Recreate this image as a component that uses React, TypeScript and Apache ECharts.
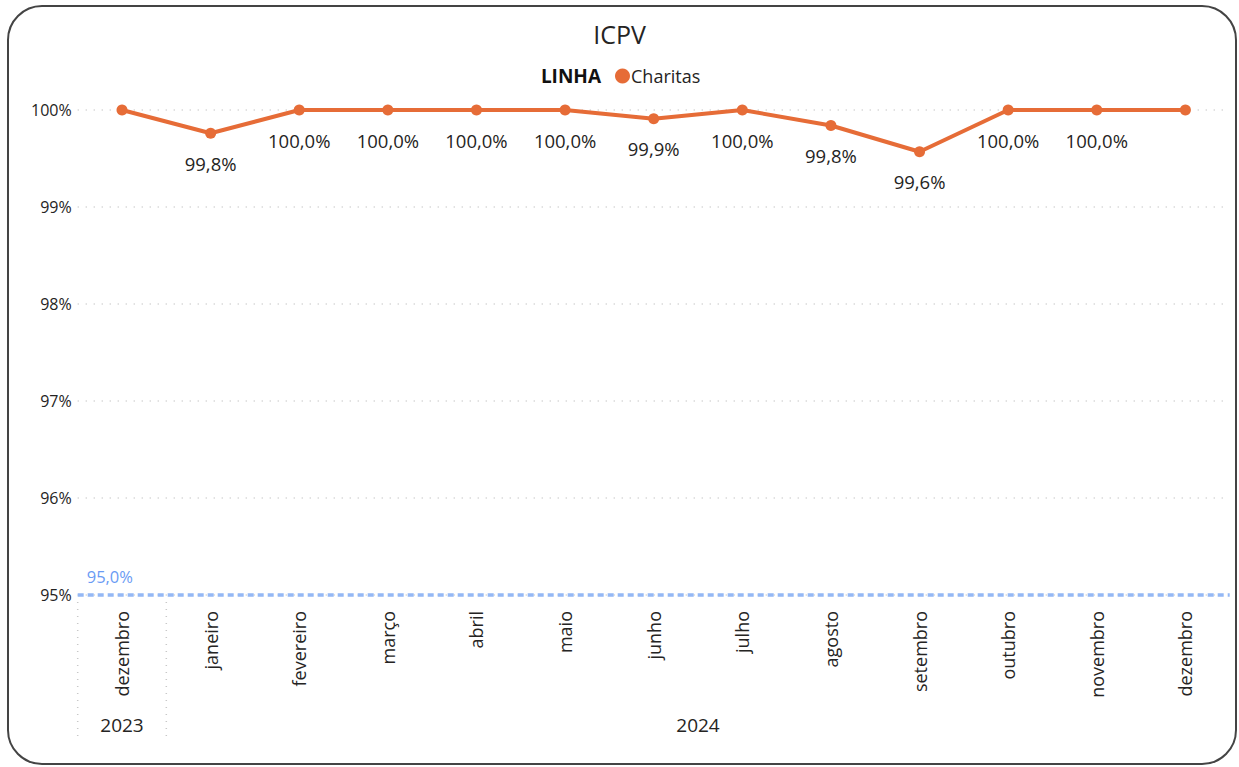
import React, { useEffect, useRef } from "react";
import * as echarts from "echarts";

const months = ["dezembro", "janeiro", "fevereiro", "março", "abril", "maio", "junho", "julho", "agosto", "setembro", "outubro", "novembro", "dezembro"];
const values = [100, 99.76, 100, 100, 100, 100, 99.91, 100, 99.84, 99.57, 100, 100, 100];
const hiddenLabelIdx = [0, 12];
const yearGroups = [
  { year: "2023", from: 0, to: 0 },
  { year: "2024", from: 1, to: 12 },
];
const yTicks = { min: 95, max: 100, interval: 1 };
const target = 95;

const FONT = "'Segoe UI', 'Open Sans', 'Noto Sans', sans-serif";
const ORANGE = "#E66C37";
const TEXT = "#252423";

export default function App() {
  const ref = useRef<HTMLDivElement>(null);
  useEffect(() => {
    const chart = echarts.init(ref.current!, null, { renderer: "svg" });
    const option: any = {
      animation: false,
      textStyle: { fontFamily: FONT },
      title: {
        text: "ICPV",
        left: "center",
        top: 16,
        textStyle: { fontSize: 25, fontWeight: "normal", color: TEXT, fontFamily: FONT },
      },
      legend: {
        left: 610,
        top: 62,
        icon: "circle",
        itemWidth: 15,
        itemHeight: 15,
        itemGap: 4,
        textStyle: { fontSize: 18, color: TEXT, fontFamily: FONT, padding: [0, 0, 0, -4] },
        data: ["Charitas"],
      },
      grid: { left: 77.7, right: 9.3, top: 110, bottom: 172 },
      xAxis: {
        type: "category",
        data: months,
        boundaryGap: true,
        axisLine: { show: false },
        axisTick: { show: false },
        axisLabel: { rotate: 90, fontSize: 18, color: TEXT, margin: 16, fontFamily: FONT },
      },
      yAxis: {
        type: "value",
        min: yTicks.min,
        max: yTicks.max,
        interval: yTicks.interval,
        axisLabel: { formatter: (v: number) => `${v}%`, fontSize: 16, color: TEXT, margin: 6, fontFamily: FONT },
        axisLine: { show: false },
        splitLine: { lineStyle: { type: [1, 7], color: "#C8C8C8", width: 1.5 } },
      },
      series: [
        {
          name: "Charitas",
          type: "line",
          data: values.map((v, i) => ({
            value: v,
            label: { show: !hiddenLabelIdx.includes(i) },
          })),
          color: ORANGE,
          lineStyle: { width: 4, color: ORANGE },
          symbol: "circle",
          symbolSize: 11,
          itemStyle: { color: ORANGE },
          label: {
            show: true,
            position: "bottom",
            distance: 15,
            fontSize: 18.5,
            color: TEXT,
            fontFamily: FONT,
            formatter: (p: any) => `${Number(p.value).toFixed(1).replace(".", ",")}%`,
          },
          markLine: {
            silent: true,
            symbol: "none",
            data: [{ yAxis: target }],
            lineStyle: { color: "#94B8F5", type: [6, 4], width: 3.5 },
            label: {
              position: "insideStartTop",
              formatter: () => `${target.toFixed(1).replace(".", ",")}%`,
              color: "#6A9BF4",
              fontSize: 16.5,
              fontFamily: FONT,
              distance: [9, 10],
            },
          },
        },
      ],
    };
    chart.setOption(option);

    const px = (i: number) => chart.convertToPixel({ xAxisIndex: 0 }, i) as number;
    const step = px(1) - px(0);
    const graphics: any[] = [
      {
        type: "rect",
        shape: { x: 8, y: 6, width: 1228, height: 758, r: 34 },
        style: { fill: "none", stroke: "#444", lineWidth: 2 },
        silent: true,
      },
      {
        type: "text",
        x: 601,
        y: 76,
        style: { text: "LINHA", fontSize: 19, fontWeight: "bold", fill: "#111", textAlign: "right", textVerticalAlign: "middle", fontFamily: FONT },
      },
    ];
    yearGroups.forEach((g, gi) => {
      const left = px(g.from) - step / 2;
      const right = px(g.to) + step / 2;
      graphics.push({
        type: "text",
        x: (px(g.from) + px(g.to)) / 2,
        y: 725,
        style: { text: g.year, fontSize: 19, fill: TEXT, textAlign: "center", textVerticalAlign: "middle", fontFamily: FONT },
      });
      if (gi === 0) {
        [left, right].forEach((x) => {
          graphics.push({
            type: "line",
            shape: { x1: x, y1: 602, x2: x, y2: 742 },
            style: { stroke: "#C8C8C8", lineWidth: 1.5, lineDash: [1, 6] },
          });
        });
      }
    });
    chart.setOption({ graphic: graphics });
    return () => chart.dispose();
  }, []);
  return (
    <div
      ref={ref}
      style={{ position: "fixed", left: 0, top: 0, width: 1239, height: 767, background: "#fff" }}
    />
  );
}
